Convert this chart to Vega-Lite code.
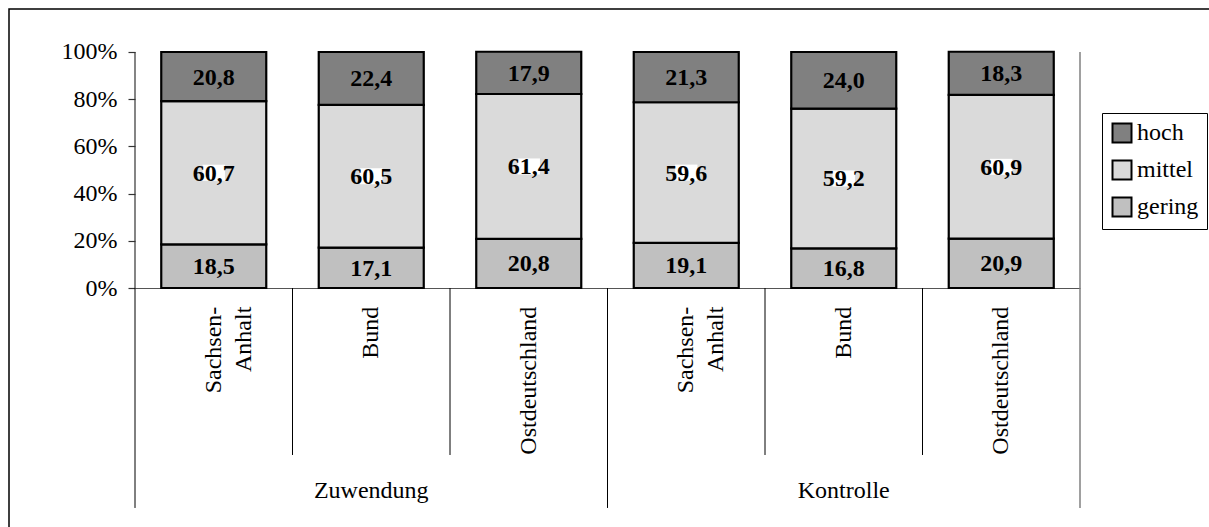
{
  "$schema": "https://vega.github.io/schema/vega-lite/v6.json",
  "autosize": "none",
  "width": 1220,
  "height": 540,
  "padding": {"left": 9, "top": 9, "right": 0, "bottom": 0},
  "background": "white",
  "config": {
    "view": {"stroke": "black", "strokeWidth": 1.5},
    "locale": {"number": {"decimal": ",", "thousands": ".", "grouping": [3], "currency": ["", " €"]}},
    "font": "Liberation Serif"
  },
  "datasets": {
    "bars": [
      {"gruppe": "Zuwendung", "key": "Zuwendung: Sachsen-Anhalt", "level": "gering", "value": 18.5},
      {"gruppe": "Zuwendung", "key": "Zuwendung: Sachsen-Anhalt", "level": "mittel", "value": 60.7},
      {"gruppe": "Zuwendung", "key": "Zuwendung: Sachsen-Anhalt", "level": "hoch", "value": 20.8},
      {"gruppe": "Zuwendung", "key": "Zuwendung: Bund", "level": "gering", "value": 17.1},
      {"gruppe": "Zuwendung", "key": "Zuwendung: Bund", "level": "mittel", "value": 60.5},
      {"gruppe": "Zuwendung", "key": "Zuwendung: Bund", "level": "hoch", "value": 22.4},
      {"gruppe": "Zuwendung", "key": "Zuwendung: Ostdeutschland", "level": "gering", "value": 20.8},
      {"gruppe": "Zuwendung", "key": "Zuwendung: Ostdeutschland", "level": "mittel", "value": 61.4},
      {"gruppe": "Zuwendung", "key": "Zuwendung: Ostdeutschland", "level": "hoch", "value": 17.9},
      {"gruppe": "Kontrolle", "key": "Kontrolle: Sachsen-Anhalt", "level": "gering", "value": 19.1},
      {"gruppe": "Kontrolle", "key": "Kontrolle: Sachsen-Anhalt", "level": "mittel", "value": 59.6},
      {"gruppe": "Kontrolle", "key": "Kontrolle: Sachsen-Anhalt", "level": "hoch", "value": 21.3},
      {"gruppe": "Kontrolle", "key": "Kontrolle: Bund", "level": "gering", "value": 16.8},
      {"gruppe": "Kontrolle", "key": "Kontrolle: Bund", "level": "mittel", "value": 59.2},
      {"gruppe": "Kontrolle", "key": "Kontrolle: Bund", "level": "hoch", "value": 24.0},
      {"gruppe": "Kontrolle", "key": "Kontrolle: Ostdeutschland", "level": "gering", "value": 20.9},
      {"gruppe": "Kontrolle", "key": "Kontrolle: Ostdeutschland", "level": "mittel", "value": 60.9},
      {"gruppe": "Kontrolle", "key": "Kontrolle: Ostdeutschland", "level": "hoch", "value": 18.3}
    ],
    "cats": [
      {"gruppe": "Zuwendung", "key": "Zuwendung: Sachsen-Anhalt", "region": "Sachsen-Anhalt", "label": "Sachsen-\nAnhalt"},
      {"gruppe": "Zuwendung", "key": "Zuwendung: Bund", "region": "Bund", "label": "Bund"},
      {"gruppe": "Zuwendung", "key": "Zuwendung: Ostdeutschland", "region": "Ostdeutschland", "label": "Ostdeutschland"},
      {"gruppe": "Kontrolle", "key": "Kontrolle: Sachsen-Anhalt", "region": "Sachsen-Anhalt", "label": "Sachsen-\nAnhalt"},
      {"gruppe": "Kontrolle", "key": "Kontrolle: Bund", "region": "Bund", "label": "Bund"},
      {"gruppe": "Kontrolle", "key": "Kontrolle: Ostdeutschland", "region": "Ostdeutschland", "label": "Ostdeutschland"}
    ],
    "groups": [
      {"gruppe": "Zuwendung"},
      {"gruppe": "Kontrolle"}
    ]
  },
  "resolve": {"scale": {"x": "independent"}},
  "layer": [
    {
      "layer": [
        {
          "data": {"name": "bars"},
          "transform": [{"stack": "value", "groupby": ["key"], "as": ["v0", "v1"]}],
          "mark": {"type": "bar", "width": {"band": 0.6667}, "stroke": "black", "strokeWidth": 2.2},
          "encoding": {
            "x": {"field": "key", "type": "nominal",
                  "scale": {"domain": ["Zuwendung: Sachsen-Anhalt", "Zuwendung: Bund", "Zuwendung: Ostdeutschland", "Kontrolle: Sachsen-Anhalt", "Kontrolle: Bund", "Kontrolle: Ostdeutschland"],
                            "range": [126, 1071], "paddingInner": 0, "paddingOuter": 0},
                  "axis": {"orient": "bottom", "offset": -261, "labels": false, "ticks": false, "domain": true, "domainColor": "#555555", "domainWidth": 1.2, "grid": false, "title": null}},
            "y": {"field": "v1", "type": "quantitative",
                  "scale": {"domain": [-110.59, 118.22], "nice": false, "zero": false},
                  "axis": {"values": [0, 20, 40, 60, 80, 100], "labelExpr": "datum.value + '%'", "offset": -126, "domain": false, "grid": false,
                           "tickSize": 7, "tickColor": "#333333", "tickWidth": 1.2, "labelFont": "Liberation Serif", "labelFontSize": 24,
                           "labelColor": "black", "labelPadding": 11, "title": null}},
            "y2": {"field": "v0"},
            "color": {"field": "level", "type": "nominal",
                      "scale": {"domain": ["hoch", "mittel", "gering"], "range": ["#808080", "#dadada", "#c0c0c0"]},
                      "legend": {"orient": "none", "legendX": 1093, "legendY": 104, "title": null, "strokeColor": "black",
                                 "padding": 8, "symbolType": "square", "symbolSize": 361, "symbolStrokeColor": "black",
                                 "symbolStrokeWidth": 2, "labelFont": "Liberation Serif", "labelFontSize": 24, "labelColor": "black",
                                 "labelOffset": 3, "rowPadding": 9, "labelLimit": 200}}
          }
        },
        {
          "data": {"name": "bars"},
          "transform": [{"stack": "value", "groupby": ["key"], "as": ["v0", "v1"]}, {"calculate": "(datum.v0 + datum.v1) / 2", "as": "mid"}, {"filter": "datum.level == 'mittel'"}],
          "mark": {"type": "point", "shape": "M-0.7,-0.5H0.7V0.5H-0.7Z", "size": 1024, "filled": true, "fill": "white", "opacity": 1, "strokeWidth": 0},
          "encoding": {
            "x": {"field": "key", "type": "nominal", "title": null},
            "y": {"field": "mid", "type": "quantitative", "title": null}
          }
        },
        {
          "data": {"name": "bars"},
          "transform": [{"stack": "value", "groupby": ["key"], "as": ["v0", "v1"]}, {"calculate": "(datum.v0 + datum.v1) / 2", "as": "mid"}],
          "mark": {"type": "text", "font": "Liberation Serif", "fontSize": 24, "fontWeight": "bold", "color": "black", "baseline": "middle", "align": "center", "dy": 1},
          "encoding": {
            "x": {"field": "key", "type": "nominal", "title": null},
            "y": {"field": "mid", "type": "quantitative", "title": null},
            "text": {"field": "value", "type": "quantitative", "format": ".1f"}
          }
        },
        {
          "data": {"name": "cats"},
          "mark": {"type": "text", "font": "Liberation Serif", "fontSize": 24, "color": "black", "angle": 270, "align": "right", "baseline": "middle", "lineBreak": "\n", "lineHeight": 30},
          "encoding": {
            "x": {"field": "key", "type": "nominal", "title": null},
            "y": {"datum": -7.9, "type": "quantitative"},
            "text": {"field": "label"}
          }
        },
        {
          "data": {"name": "cats"},
          "transform": [{"filter": "datum.region != 'Sachsen-Anhalt'"}],
          "mark": {"type": "rule", "color": "black", "strokeWidth": 1},
          "encoding": {
            "x": {"field": "key", "type": "nominal", "bandPosition": 0, "title": null},
            "y": {"datum": 0, "type": "quantitative"},
            "y2": {"datum": -70.76}
          }
        }
      ]
    },
    {
      "layer": [
        {
          "data": {"name": "groups"},
          "mark": {"type": "text", "font": "Liberation Serif", "fontSize": 24, "color": "black", "align": "center", "baseline": "alphabetic"},
          "encoding": {
            "x": {"field": "gruppe", "type": "nominal",
                  "scale": {"domain": ["Zuwendung", "Kontrolle"], "range": [126, 1071], "paddingInner": 0, "paddingOuter": 0},
                  "axis": null},
            "y": {"datum": -89.0, "type": "quantitative"},
            "text": {"field": "gruppe"}
          }
        },
        {
          "data": {"name": "groups"},
          "mark": {"type": "rule", "color": "black", "strokeWidth": 1},
          "encoding": {
            "x": {"field": "gruppe", "type": "nominal", "bandPosition": 0, "axis": null},
            "y": {"datum": 0, "type": "quantitative"},
            "y2": {"datum": -93.2}
          }
        },
        {
          "data": {"name": "groups"},
          "transform": [{"filter": "datum.gruppe == 'Zuwendung'"}],
          "mark": {"type": "rule", "color": "#333333", "strokeWidth": 1.2},
          "encoding": {
            "x": {"field": "gruppe", "type": "nominal", "bandPosition": 0, "axis": null},
            "y": {"datum": 0, "type": "quantitative"},
            "y2": {"datum": 100}
          }
        },
        {
          "data": {"name": "groups"},
          "transform": [{"filter": "datum.gruppe == 'Kontrolle'"}],
          "mark": {"type": "rule", "color": "#808080", "strokeWidth": 1.5},
          "encoding": {
            "x": {"field": "gruppe", "type": "nominal", "bandPosition": 1, "axis": null},
            "y": {"datum": 100, "type": "quantitative"},
            "y2": {"datum": -93.2}
          }
        }
      ]
    }
  ]
}
